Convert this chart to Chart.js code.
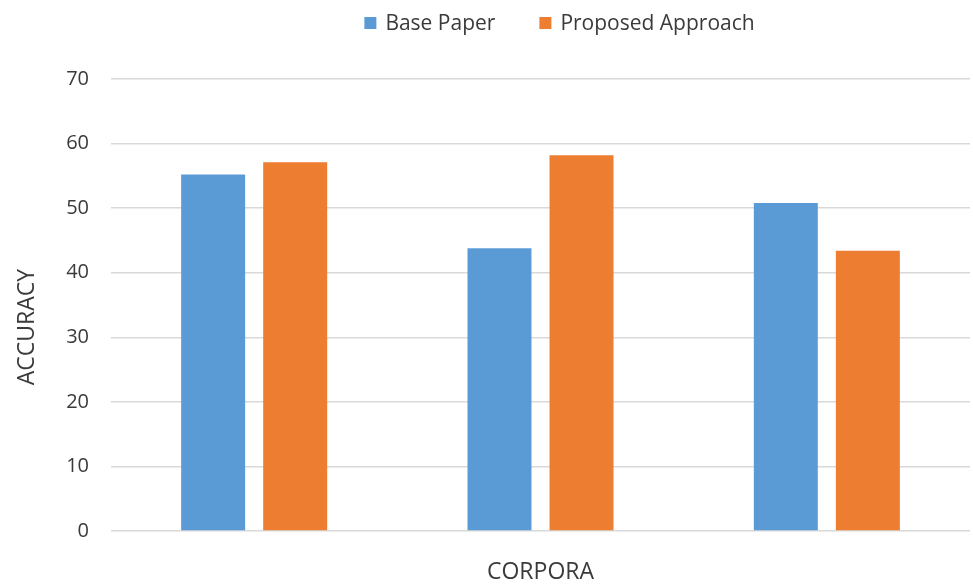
<!DOCTYPE html>
<html>
<head>
<meta charset="utf-8">
<script src="https://cdn.jsdelivr.net/npm/chart.js@4"></script>
<style>
  html, body { margin: 0; padding: 0; background: #ffffff; }
  #wrap { width: 973px; height: 586px; }
</style>
</head>
<body>
<div id="wrap"><canvas id="chart" width="973" height="586"></canvas></div>
<script>
// Corpora compared (no per-corpus labels are shown on the axis)
const categories = ['Corpus 1', 'Corpus 2', 'Corpus 3'];
const seriesNames = ['Base Paper', 'Proposed Approach'];
const basePaper = [55.2, 43.8, 50.8];
const proposedApproach = [57.1, 58.2, 43.4];
const yTicks = [0, 10, 20, 30, 40, 50, 60, 70];

const colors = ['#5B9BD5', '#ED7D31'];
const FONT = '"Open Sans", "Liberation Sans", sans-serif';
const TEXT = '#3a3a3a';

// Legend row (centred on the plot area) and rotated y-axis title
const decorations = {
  id: 'decorations',
  afterDraw(chart) {
    const ctx = chart.ctx;
    const area = chart.chartArea;
    ctx.save();
    ctx.font = '21px ' + FONT;
    ctx.textBaseline = 'middle';
    const box = 12, textGap = 9, itemGap = 44, cy = 23;
    const items = chart.data.datasets.map(d => ({ text: d.label, color: d.backgroundColor, w: box + textGap + ctx.measureText(d.label).width }));
    const total = items.reduce((s, it) => s + it.w, 0) + itemGap * (items.length - 1);
    let x = (area.left + area.right) / 2 + 19 - total / 2;
    items.forEach(it => {
      ctx.fillStyle = it.color;
      ctx.fillRect(x, cy - box / 2, box, box);
      ctx.fillStyle = TEXT;
      ctx.textAlign = 'left';
      ctx.fillText(it.text, x + box + textGap, cy + 1);
      x += it.w + itemGap;
    });
    // y-axis title
    ctx.translate(27, 327);
    ctx.rotate(-Math.PI / 2);
    ctx.textAlign = 'center';
    ctx.font = '23px ' + FONT;
    ctx.fillStyle = TEXT;
    ctx.fillText('ACCURACY', 0, 0);
    ctx.restore();
  }
};

new Chart(document.getElementById('chart'), {
  type: 'bar',
  data: {
    labels: categories,
    datasets: [
      { label: seriesNames[0], data: basePaper, backgroundColor: colors[0] },
      { label: seriesNames[1], data: proposedApproach, backgroundColor: colors[1] }
    ]
  },
  options: {
    responsive: false,
    animation: false,
    devicePixelRatio: 1,
    layout: { padding: { top: 79, right: 3, left: 0, bottom: 0 } },
    categoryPercentage: 0.573,
    barPercentage: 0.78,
    plugins: {
      legend: { display: false },
      tooltip: { enabled: false }
    },
    scales: {
      x: {
        grid: { display: false },
        border: { display: false },
        ticks: { display: false },
        title: {
          display: true,
          text: 'CORPORA',
          color: TEXT,
          font: { family: FONT, size: 23 },
          padding: { top: 0, bottom: 0 }
        },
        afterFit(axis) { axis.height = 55; }
      },
      y: {
        min: 0,
        max: 70,
        afterBuildTicks(axis) { axis.ticks = yTicks.map(v => ({ value: v })); },
        grid: { color: '#d9d9d9', lineWidth: 1.5, drawTicks: false },
        border: { display: false },
        ticks: {
          color: TEXT,
          padding: 22,
          font: { family: FONT, size: 20 }
        },
        afterFit(axis) { axis.width = 111; }
      }
    }
  },
  plugins: [decorations]
});
</script>
</body>
</html>
